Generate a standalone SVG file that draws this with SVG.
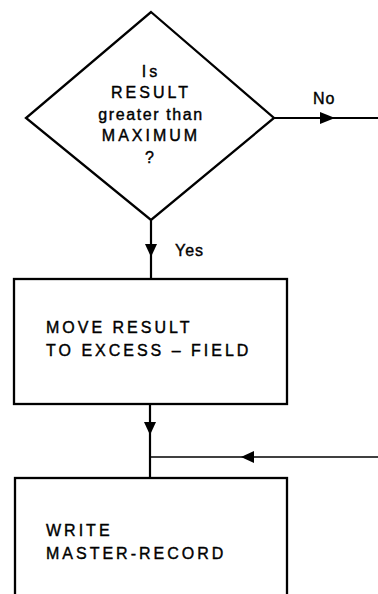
<svg xmlns="http://www.w3.org/2000/svg" width="378" height="594" viewBox="0 0 378 594">
  <style>
    .shape { fill: #fff; stroke: #000; stroke-width: 2.3; }
    .line { fill: none; stroke: #000; stroke-width: 2.2; }
    .head { fill: #000; stroke: none; }
    text { font-family: "Liberation Sans", Arial, Helvetica, sans-serif; font-size: 16px; fill: #000; stroke: #000; stroke-width: 0.4px; letter-spacing: 3px; }
    .mid { text-anchor: middle; }
    .label { letter-spacing: 1px; }
  </style>
  <rect width="378" height="594" fill="#fff"/>

  <g id="connectors">
    <!-- No branch to the right -->
    <line class="line" x1="274" y1="118" x2="378" y2="118"/>
    <polygon class="head" points="335,118 320,112 320,124"/>
    <text class="label" x="313" y="104">No</text>
    <!-- Yes branch down -->
    <line class="line" x1="151" y1="220" x2="151" y2="279"/>
    <polygon class="head" points="151,257 145,244 157,244"/>
    <text class="label" x="175" y="256">Yes</text>
    <!-- from MOVE box down to WRITE box -->
    <line class="line" x1="150" y1="404" x2="150" y2="478"/>
    <polygon class="head" points="150,435 144,422 156,422"/>
    <!-- merging flow from the right -->
    <line class="line" x1="378" y1="457" x2="150" y2="457" style="stroke-width:1.7"/>
    <polygon class="head" points="241,457 254,451 254,463"/>
  </g>

  <g id="decision">
    <polygon class="shape" points="151,12 274,118 151,220 26,118"/>
    <text class="mid" x="151" y="77">Is</text>
    <text class="mid" x="151" y="98">RESULT</text>
    <text class="mid" x="151" y="120" style="letter-spacing:1.6px">greater than</text>
    <text class="mid" x="151" y="141">MAXIMUM</text>
    <text class="mid" x="151" y="163">?</text>
  </g>

  <g id="move-result">
    <rect class="shape" x="14" y="279" width="273" height="125"/>
    <text x="46" y="333">MOVE RESULT</text>
    <text x="46" y="356">TO EXCESS – FIELD</text>
  </g>

  <g id="write-master">
    <rect class="shape" x="15" y="478" width="272" height="130"/>
    <text x="46" y="536">WRITE</text>
    <text x="46" y="559">MASTER-RECORD</text>
  </g>
</svg>
